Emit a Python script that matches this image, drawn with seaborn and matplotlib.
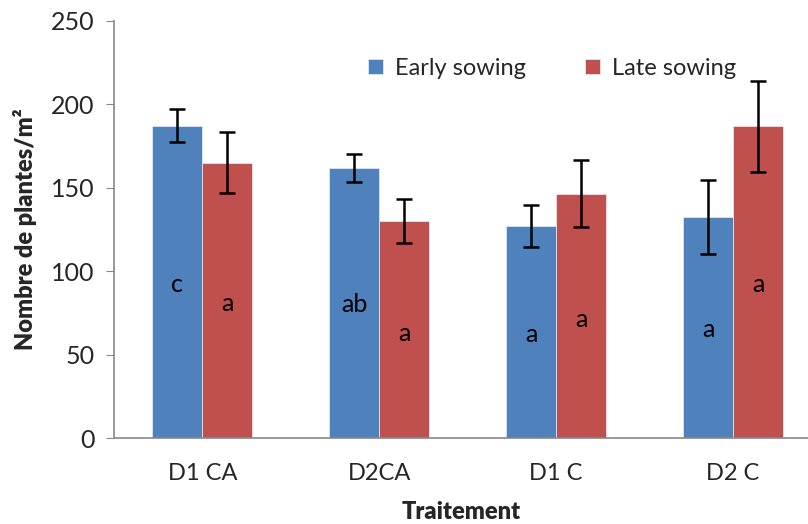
import pandas as pd
import matplotlib.pyplot as plt
import seaborn as sns

# values
traitements = ["D1 CA", "D2CA", "D1 C", "D2 C"]
series = ["Early sowing", "Late sowing"]
early = [187.2, 161.9, 127.1, 132.5]
late = [165.2, 130.3, 146.5, 186.8]
early_err = [10.0, 8.3, 12.7, 22.0]
late_err = [18.2, 13.3, 20.0, 27.2]
early_letters = ["c", "ab", "a", "a"]
late_letters = ["a", "a", "a", "a"]
early_letter_y = [92, 80, 62, 65]
late_letter_y = [81, 63, 71, 92]

df = pd.DataFrame({
    "Traitement": traitements * 2,
    "Semis": [series[0]] * 4 + [series[1]] * 4,
    "val": early + late,
})

sns.set_style("white")
plt.rcParams["font.family"] = ["Lato", "DejaVu Sans"]

fig = plt.figure(figsize=(8.08, 5.24), dpi=100)
ax = fig.add_axes([0.141, 0.1636, 0.859, 0.7964])

sns.barplot(data=df, x="Traitement", y="val", hue="Semis", order=traitements,
            hue_order=series, palette=["#4F81BD", "#C0504D"], saturation=1,
            width=0.566, gap=0, edgecolor="#dde6f0", linewidth=0.6, ax=ax,
            errorbar=None)

# error bars + letters on top of the seaborn bars
bars = ax.patches[:8]
errs = early_err + late_err
letters = early_letters + late_letters
letter_y = early_letter_y + late_letter_y
vals = early + late
for b, v, e, l, ly in zip(bars, vals, errs, letters, letter_y):
    xc = b.get_x() + b.get_width() / 2
    ax.errorbar(xc, v, yerr=e, color="black", capsize=5.5, elinewidth=1.8,
                capthick=1.8, zorder=5)
    ax.text(xc, ly, l, ha="center", va="center", fontsize=18, color="black")

ax.set_ylim(0, 250)
ax.set_xlim(-0.5, 3.424)
ax.set_yticks([0, 50, 100, 150, 200, 250])
ax.tick_params(axis="y", labelsize=18, length=6, color="#888888", direction="out", left=True, pad=8)
ax.tick_params(axis="x", labelsize=17, length=0, pad=18)
for s in ["top", "right"]:
    ax.spines[s].set_visible(False)
for s in ["left", "bottom"]:
    ax.spines[s].set_color("#888888")
    ax.spines[s].set_linewidth(1.2)

ax.set_xlabel("Traitement", fontsize=17, fontweight="heavy", labelpad=12)
ax.set_ylabel("Nombre de plantes/m²", fontsize=17, fontweight="heavy", labelpad=10)

ax.legend(loc="upper left", bbox_to_anchor=(0.349, 0.94), ncol=2, frameon=False,
          fontsize=17, handlelength=0.65, handleheight=0.65, handletextpad=0.5,
          columnspacing=2.5, borderpad=0)

fig.savefig("out.png", dpi=100)
